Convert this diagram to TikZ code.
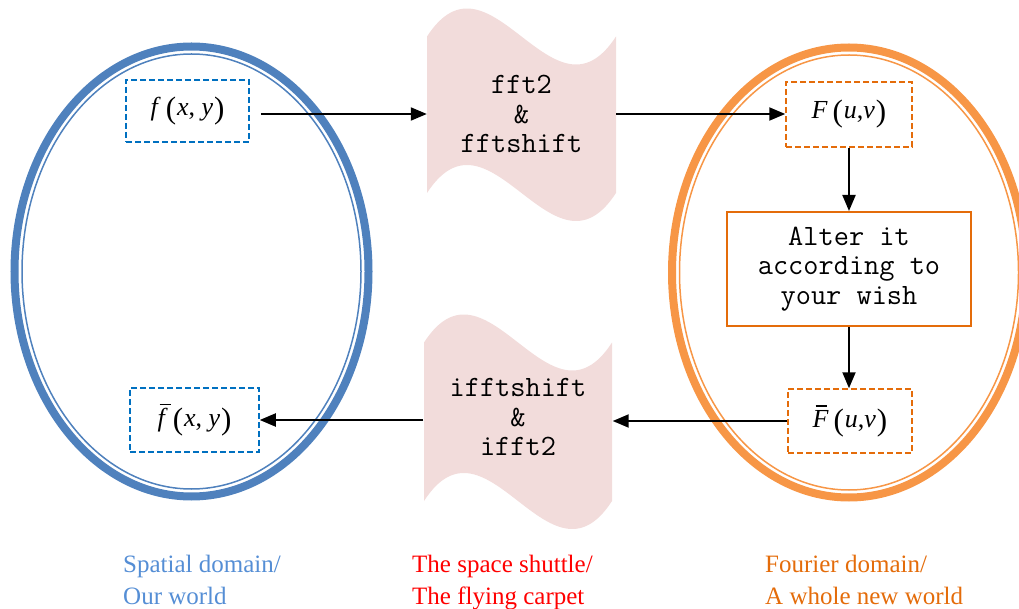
\documentclass[tikz,border=0pt]{standalone}
\usepackage{fontspec}
\setmainfont{Liberation Serif}
\usetikzlibrary{arrows.meta}

\definecolor{spatialblue}{HTML}{4F81BD}
\definecolor{boxblue}{HTML}{0070C0}
\definecolor{labelblue}{HTML}{558ED5}
\definecolor{fourierorange}{HTML}{F79646}
\definecolor{boxorange}{HTML}{E46C0A}
\definecolor{shuttlepink}{HTML}{F2DCDB}

% larger, slightly lowered parentheses around function arguments
\newcommand{\argparen}[1]{\raisebox{-3pt}{\fontsize{31}{31}\selectfont #1}}
\newcommand{\ivar}[1]{{\itshape #1}}
% italic letter with a bar over it
\newcommand{\barvar}[3]{\makebox[0pt][l]{\hspace*{#2}\rule[#3]{11pt}{1.3pt}}\ivar{#1}}
% f(x,y)-style function value
\newcommand{\fnval}[3]{#1\hspace{5pt}\argparen{(}\hspace{1pt}\ivar{#2},#3\hspace{1pt}\argparen{)}}

\begin{document}
\begin{tikzpicture}[x=1pt,y=-1pt,
  mathbox/.style={draw, line width=1.5pt, dash pattern=on 6pt off 3pt,
    inner sep=0pt, font=\fontsize{26}{30}\selectfont},
  spatialbox/.style={mathbox, draw=boxblue},
  fourierbox/.style={mathbox, draw=boxorange},
  codetext/.style={font=\ttfamily\fontsize{29.5}{29.5}\selectfont,
    align=center, inner sep=0pt},
  shuttle/.style={inner sep=0pt, minimum width=189pt, minimum height=150pt},
  flow/.style={line width=2pt, -{Triangle[length=16pt,width=13pt]}},
  caption/.style={anchor=north west, align=left, inner sep=0pt,
    font=\fontsize{25}{31.5}\selectfont},
  outerring/.style={line width=8pt},
  innerring/.style={line width=1.5pt}
]

\path[use as bounding box, clip] (0,0) rectangle (1019,609);

% spatial domain: thick-thin double ellipse
\draw[spatialblue, outerring] (191.5,271.5) ellipse [x radius=177pt, y radius=225pt];
\draw[spatialblue, innerring] (191.5,271.5) ellipse [x radius=169.5pt, y radius=217.5pt];

% Fourier domain: thick-thin double ellipse
\draw[fourierorange, outerring] (849,272.5) ellipse [x radius=177pt, y radius=225pt];
\draw[fourierorange, innerring] (849,272.5) ellipse [x radius=169.5pt, y radius=217.5pt];

% the two wavy "carpets"
\fill[shuttlepink] (427,36.5) .. controls (490,-60.5) and (553,133.5) .. (616,36.5)
  -- (616,193) .. controls (553,290) and (490,96) .. (427,193) -- cycle;
\fill[shuttlepink] (424,342.5) .. controls (486.7,245.5) and (549.3,439.5) .. (612,342.5)
  -- (612,501) .. controls (549.3,598) and (486.7,404) .. (424,501) -- cycle;

\node[shuttle] (fwd) at (521.5,114) {};
\node[codetext] (fwdtext) at (521.5,114) {fft2\\\&\\fftshift};
\node[shuttle] (bwd) at (518,421.5) {};
\node[codetext] (bwdtext) at (518,417) {ifftshift\\\&\\ifft2};

% function boxes
\node[spatialbox, minimum width=123pt, minimum height=62pt] (f) at (187.5,111)
  {\fnval{\ivar{f}\hspace{3pt}}{x}{ \ivar{y}}};
\node[spatialbox, minimum width=129pt, minimum height=64pt] (fbar) at (194.5,420)
  {\fnval{\barvar{f}{2pt}{22pt}\hspace{3pt}}{x}{ \ivar{y}}};
\node[fourierbox, minimum width=126pt, minimum height=65pt] (F) at (849,114.5)
  {\fnval{\ivar{F}}{u}{\ivar{v}}};
\node[fourierbox, minimum width=124pt, minimum height=64pt] (Fbar) at (850,421)
  {\fnval{\barvar{F}{3pt}{20.5pt}}{u}{\ivar{v}}};

\node[draw=boxorange, line width=2pt, minimum width=244pt, minimum height=114pt,
  codetext] (alter) at (849,269) {Alter it\\according to\\your wish};

% connectors
\draw[flow, shorten <=11pt] (f.east |- fwd.west) -- (fwd.west);
\draw[flow] (fwd.east) -- (F.west |- fwd.east);
\draw[flow] (F.south) -- (alter.north);
\draw[flow] (alter.south) -- (Fbar.north -| alter.south);
\draw[flow] (Fbar.west) -- (Fbar.west -| bwd.east);
\draw[flow] (bwd.west |- fbar.east) -- (fbar.east);

% captions
\node[caption, text=labelblue] (spatialcap) at (123,555) {Spatial domain/\\Our world};
\node[caption, text=red] (shuttlecap) at (412,555) {The space shuttle/\\The flying carpet};
\node[caption, text=boxorange] (fouriercap) at (765,555) {Fourier domain/\\A whole new world};

\end{tikzpicture}
\end{document}
